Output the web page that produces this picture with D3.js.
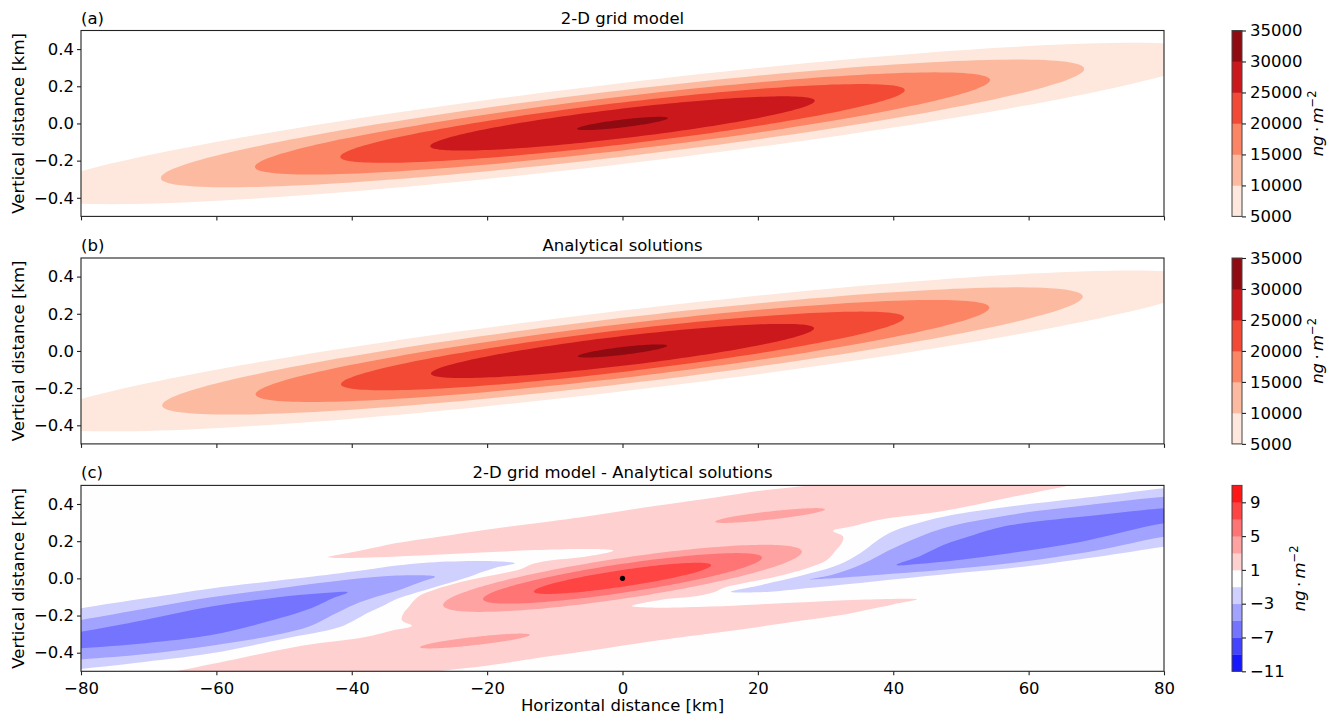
<!DOCTYPE html>
<html>
<head>
<meta charset="utf-8">
<script src="https://cdn.jsdelivr.net/npm/d3@7"></script>
<style>
  body { margin: 0; background: #fff; }
  text { font-family: "DejaVu Sans", sans-serif; fill: #000; }
</style>
</head>
<body>
<svg id="chart" width="1335" height="718"></svg>
<script>
// ---- data (km) ----
const xTicks = [-80, -60, -40, -20, 0, 20, 40, 60, 80];
const yTicks = [-0.4, -0.2, 0.0, 0.2, 0.4];
const panelLabels = ["(a)", "(b)", "(c)"];
const panelTitles = ["2-D grid model", "Analytical solutions", "2-D grid model - Analytical solutions"];

// (a), (b): each contour level is a long sheared ellipse centred on the source
const plumeLevels = [5000, 10000, 15000, 20000, 25000, 30000, 35000];
const plumeTicks = [5000, 10000, 15000, 20000, 25000, 30000, 35000];
const plumeSlope = 0.0043;                 // km rise per km
const modelHalfLength = [87.3, 68.2, 54.3, 41.7, 28.4, 6.7];
const modelHalfWidth = [0.218, 0.179, 0.145, 0.113, 0.080, 0.021];
const analyticHalfLength = [87.0, 68.0, 54.2, 41.6, 28.3, 6.6];
const analyticHalfWidth = [0.217, 0.178, 0.145, 0.113, 0.080, 0.021];

// (c): difference field
const diffLevels = [-11, -9, -7, -5, -3, -1, 1, 3, 5, 7, 9, 11];
const diffTicks = [-11, -7, -3, 1, 5, 9];

// band 1..3, one connected region
const pinkBand = [
  [-43.5, 0.113], [-40, 0.14], [-36, 0.17], [-33.4, 0.19], [-25, 0.235], [-18.8, 0.268], [-10, 0.31],
  [-4.1, 0.34], [5, 0.39], [13.7, 0.435], [20, 0.47], [27.5, 0.5], [34, 0.53], [50, 0.56], [70, 0.53],
  [66, 0.5], [57.2, 0.435], [47.4, 0.362], [38, 0.315], [34, 0.28], [31.1, 0.255],
  [32.6, 0.225], [32.4, 0.19], [31.5, 0.15], [30.2, 0.099], [27.7, 0.06], [22.8, 0.01], [18, -0.025],
  [15, -0.05], [13.5, -0.075], [11, -0.095], [5.8, -0.115], [1.35, -0.149],
  [5, -0.158], [12.9, -0.152], [20, -0.14], [27.7, -0.127], [36, -0.114], [43.5, -0.113],
  [40, -0.14], [36, -0.17], [33.4, -0.19], [25, -0.235], [18.8, -0.268], [10, -0.31], [4.1, -0.34],
  [-5, -0.39], [-13.7, -0.435], [-20, -0.47], [-27.5, -0.5], [-34, -0.53], [-50, -0.56], [-70, -0.53],
  [-66, -0.5], [-57.2, -0.435], [-47.4, -0.362], [-38, -0.315], [-34, -0.28], [-31.1, -0.255],
  [-32.6, -0.225], [-32.4, -0.19], [-31.5, -0.15], [-30.2, -0.099], [-27.7, -0.06], [-22.8, -0.01], [-18, 0.025],
  [-15, 0.05], [-13.5, 0.075], [-11, 0.095], [-5.8, 0.115], [-1.35, 0.149],
  [-5, 0.158], [-12.9, 0.152], [-20, 0.14], [-27.7, 0.127], [-36, 0.114]
];
const blueLeft1 = [
  [-86, -0.2], [-80, -0.161], [-70, -0.105], [-60.75, -0.054], [-46, 0.009], [-38, 0.045], [-33, 0.07],
  [-26, 0.09], [-20, 0.093], [-15.9, 0.081],
  [-19, 0.055], [-23.8, -0.005], [-28, -0.05], [-33.3, -0.11], [-35.5, -0.15], [-37.6, -0.185], [-39.6, -0.225],
  [-42, -0.265], [-50, -0.325], [-60.75, -0.403], [-72, -0.455], [-80, -0.487], [-86, -0.51]
];
const blueLeft2 = [
  [-86, -0.26], [-80, -0.224], [-70, -0.16], [-60.75, -0.102], [-50, -0.05], [-41, -0.009], [-33.4, 0.015], [-27.7, 0.009],
  [-30, -0.022], [-33.4, -0.068], [-36.5, -0.1], [-39.6, -0.14], [-43, -0.2], [-46, -0.255], [-52, -0.31],
  [-60.75, -0.362], [-70, -0.405], [-80, -0.436], [-86, -0.455]
];
const blueLeft3 = [
  [-86, -0.32], [-80, -0.287], [-70.6, -0.224], [-60.75, -0.152], [-50.9, -0.102], [-45, -0.082], [-40.6, -0.075],
  [-43, -0.11], [-46, -0.161], [-53.4, -0.242], [-60.75, -0.305], [-70.6, -0.349], [-80, -0.376], [-86, -0.39]
];
const blueRight1 = [
  [16, -0.072], [20, -0.04], [27.7, 0.027], [32, 0.075], [35.1, 0.135], [37.5, 0.2], [39.5, 0.245], [42.5, 0.285],
  [47.4, 0.332], [57.2, 0.386], [70, 0.44], [80, 0.484], [86, 0.505],
  [86, 0.2], [80, 0.17], [70, 0.115], [57.2, 0.054], [47, 0.02], [37.5, -0.015], [28, -0.05], [20, -0.075]
];
const blueRight2 = [
  [27.7, -0.005], [31, 0.02], [35.1, 0.072], [40.5, 0.17], [47.4, 0.269], [57.2, 0.341], [70, 0.4], [80, 0.439], [86, 0.455],
  [86, 0.245], [80, 0.224], [70, 0.15], [57.2, 0.081], [47, 0.045], [37.5, 0.018], [31, 0.0]
];
const blueRight3 = [
  [40.5, 0.072], [44, 0.12], [47.4, 0.179], [52, 0.235], [57.2, 0.285], [70, 0.34], [80, 0.377], [86, 0.39],
  [86, 0.31], [80, 0.296], [67.8, 0.197], [57.2, 0.135], [50, 0.1], [44, 0.078]
];
const diffOutlines = [pinkBand, blueLeft1, blueRight1, blueLeft2, blueRight2, blueLeft3, blueRight3];
const diffOutlineValue = [2, -2, -2, -4, -4, -6, -6];

// elliptical patches in (c): central positive core and the two thin 3..5 streaks
const diffEllipseValue = [4, 4, 4, 6, 8];
const diffEllipseCx = [0, 21.8, -21.8, 0, 0];
const diffEllipseCy = [0, 0.338, -0.337, 0, 0];
const diffEllipseHalfLength = [26.5, 8.1, 8.1, 20.6, 13.1];
const diffEllipseHalfWidth = [0.11, 0.022, 0.022, 0.078, 0.045];
const diffEllipseSlope = [0.0054, 0.0041, 0.0041, 0.0054, 0.0054];
const sourcePoint = [0, 0];

// ---- layout ----
const plotLeft = 81, plotRight = 1164, panelHeight = 185.9;
const panelTops = [30.5, 258, 485.4];
const cbLeft = 1232, cbWidth = 10;
const fontSize = 16.5;

// ---- colormaps (matplotlib Reds / bwr with 256-entry lookup) ----
const redsStops = ["#fff5f0", "#fee0d2", "#fcbba1", "#fc9272", "#fb6a4a", "#ef3b2c", "#cb181d", "#a50f15", "#67000d"];
const reds = d3.scaleLinear().domain(d3.range(9).map(i => i / 8)).range(redsStops);
const bwr = d3.scaleLinear().domain([0, 0.5, 1]).range(["#0000ff", "#ffffff", "#ff0000"]);
const lut = t => Math.min(255, Math.floor(t * 256)) / 255;
function bandColor(cmap, levels, i) {
  const mid = (levels[i] + levels[i + 1]) / 2;
  const t = (mid - levels[0]) / (levels[levels.length - 1] - levels[0]);
  return cmap(lut(t));
}
const diffColor = v => bandColor(bwr, diffLevels, (v + 10) / 2);

const svg = d3.select("#chart");
const x = d3.scaleLinear().domain([-80, 80]).range([plotLeft, plotRight]);

function shearedEllipse(cx, cy, a, b, s) {
  return d3.range(0, 360, 2).map(deg => {
    const t = deg * Math.PI / 180, dx = a * Math.cos(t);
    return [cx + dx, cy + s * dx + b * Math.sin(t)];
  });
}

panelTops.forEach((top, p) => {
  const y = d3.scaleLinear().domain([-0.5, 0.5]).range([top + panelHeight, top]);
  const straight = d3.line().x(d => x(d[0])).y(d => y(d[1])).curve(d3.curveLinearClosed);
  const smooth = d3.line().x(d => x(d[0])).y(d => y(d[1])).curve(d3.curveCatmullRomClosed.alpha(0.5));

  svg.append("clipPath").attr("id", "clip" + p)
    .append("rect").attr("x", plotLeft).attr("y", top)
    .attr("width", plotRight - plotLeft).attr("height", panelHeight);
  const fill = svg.append("g").attr("clip-path", `url(#clip${p})`);

  if (p < 2) {
    const halfLen = p === 0 ? modelHalfLength : analyticHalfLength;
    const halfWid = p === 0 ? modelHalfWidth : analyticHalfWidth;
    fill.selectAll("path").data(halfLen).join("path")
      .attr("d", (a, i) => straight(shearedEllipse(0, 0, a, halfWid[i], plumeSlope)))
      .attr("fill", (a, i) => bandColor(reds, plumeLevels, i));
  } else {
    fill.append("rect").attr("x", plotLeft).attr("y", top)
      .attr("width", plotRight - plotLeft).attr("height", panelHeight)
      .attr("fill", diffColor(0));
    fill.append("path").attr("d", smooth(pinkBand)).attr("fill", diffColor(2));
    fill.selectAll("path.core").data(diffEllipseValue).join("path").attr("class", "core")
      .attr("d", (v, i) => straight(shearedEllipse(diffEllipseCx[i], diffEllipseCy[i],
        diffEllipseHalfLength[i], diffEllipseHalfWidth[i], diffEllipseSlope[i])))
      .attr("fill", v => diffColor(v));
    fill.selectAll("path.neg").data(diffOutlines.slice(1)).join("path").attr("class", "neg")
      .attr("d", d => smooth(d))
      .attr("fill", (d, i) => diffColor(diffOutlineValue[i + 1]));
    fill.append("circle").attr("cx", x(sourcePoint[0])).attr("cy", y(sourcePoint[1]))
      .attr("r", 2.6).attr("fill", "#000");
  }

  // axes
  const yAxis = svg.append("g").attr("transform", `translate(${plotLeft},0)`)
    .call(d3.axisLeft(y).tickValues(yTicks).tickSize(4).tickPadding(3).tickFormat(d3.format(".1f")));
  const xAxis = svg.append("g").attr("transform", `translate(0,${top + panelHeight})`)
    .call(d3.axisBottom(x).tickValues(xTicks).tickSize(4).tickPadding(7).tickFormat(d3.format("d")));
  if (p < 2) xAxis.selectAll("text").remove();
  [yAxis, xAxis].forEach(ax => {
    ax.select(".domain").remove();
    ax.attr("font-size", fontSize).attr("font-family", "DejaVu Sans");
    ax.selectAll("line").attr("stroke", "#222").attr("stroke-width", 1.1);
  });

  svg.append("rect").attr("x", plotLeft).attr("y", top)
    .attr("width", plotRight - plotLeft).attr("height", panelHeight)
    .attr("fill", "none").attr("stroke", "#222").attr("stroke-width", 1.1);

  svg.append("text").attr("x", plotLeft).attr("y", top - 7)
    .attr("font-size", fontSize).text(panelLabels[p]);
  svg.append("text").attr("x", (plotLeft + plotRight) / 2).attr("y", top - 7)
    .attr("text-anchor", "middle").attr("font-size", fontSize).text(panelTitles[p]);
  svg.append("text")
    .attr("transform", `translate(24,${top + panelHeight / 2}) rotate(-90)`)
    .attr("text-anchor", "middle").attr("font-size", fontSize).text("Vertical distance [km]");

  // colourbar
  const levels = p < 2 ? plumeLevels : diffLevels;
  const ticks = p < 2 ? plumeTicks : diffTicks;
  const cmap = p < 2 ? reds : bwr;
  const cb = d3.scaleLinear().domain([levels[0], levels[levels.length - 1]]).range([top + panelHeight, top]);
  svg.append("g").selectAll("rect").data(levels.slice(0, -1)).join("rect")
    .attr("x", cbLeft).attr("width", cbWidth)
    .attr("y", (v, i) => cb(levels[i + 1]))
    .attr("height", (v, i) => cb(levels[i]) - cb(levels[i + 1]) + 0.4)
    .attr("fill", (v, i) => bandColor(cmap, levels, i));
  svg.append("rect").attr("x", cbLeft).attr("y", top).attr("width", cbWidth).attr("height", panelHeight)
    .attr("fill", "none").attr("stroke", "#444").attr("stroke-width", 1);
  const cbAxis = svg.append("g").attr("transform", `translate(${cbLeft + cbWidth},0)`)
    .call(d3.axisRight(cb).tickValues(ticks).tickSize(4).tickPadding(4).tickFormat(d3.format("d")));
  cbAxis.select(".domain").remove();
  cbAxis.attr("font-size", fontSize).attr("font-family", "DejaVu Sans");
  cbAxis.selectAll("line").attr("stroke", "#222").attr("stroke-width", 1.1);

  const lbl = svg.append("text")
    .attr("transform", `translate(${p < 2 ? 1323 : 1304.5},${top + panelHeight / 2}) rotate(-90)`)
    .attr("text-anchor", "middle").attr("font-size", fontSize);
  lbl.append("tspan").attr("font-style", "italic").text("ng");
  lbl.append("tspan").text("\u2009\u00b7\u2009");
  lbl.append("tspan").attr("font-style", "italic").text("m");
  lbl.append("tspan").attr("dy", -7).attr("font-size", 11.5).text("\u22122");
});

svg.append("text").attr("x", (plotLeft + plotRight) / 2).attr("y", 711)
  .attr("text-anchor", "middle").attr("font-size", fontSize).text("Horizontal distance [km]");
</script>
</body>
</html>
